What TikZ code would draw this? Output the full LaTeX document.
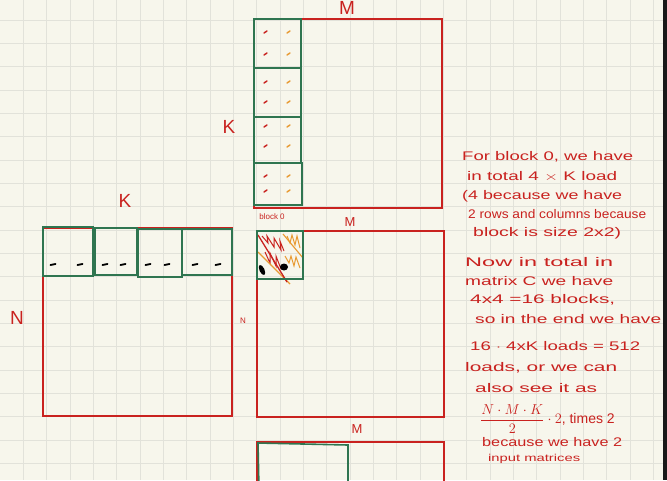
\documentclass[tikz,border=0pt]{standalone}
\usepackage{amsmath}
\usepackage{fontspec}
\setmainfont{Liberation Sans}
\usetikzlibrary{positioning}

\definecolor{paper}{HTML}{F7F6EC}
\definecolor{gridgray}{HTML}{E2E2DA}
\definecolor{inkred}{HTML}{C9221F}
\definecolor{inkgreen}{HTML}{2F7550}
\definecolor{inkorange}{HTML}{E89A32}

\newcommand{\handline}[2]{\resizebox{#1pt}{\height}{#2}}

\begin{document}
\begin{tikzpicture}[
    x=1pt, y=-1pt,
    gridline/.style={draw=gridgray, line width=0.9pt},
    matbox/.style={draw=inkred, line width=1.4pt},
    blockbox/.style={draw=inkgreen, line width=1.6pt},
    redmark/.style={draw=inkred, line width=1.5pt, line cap=round},
    orangemark/.style={draw=inkorange, line width=1.5pt, line cap=round},
    blackmark/.style={draw=black, line width=1.8pt, line cap=round},
    biglabel/.style={text=inkred, inner sep=0pt, font=\fontsize{19}{19}\selectfont},
    midlabel/.style={text=inkred, inner sep=0pt, font=\fontsize{13}{13}\selectfont},
    smalllabel/.style={text=inkred, inner sep=0pt, font=\fontsize{8}{8}\selectfont},
    note/.style={text=inkred, anchor=west, inner sep=0pt, font=\fontsize{12.5}{14}\selectfont}
]

    \fill[paper] (0,0) rectangle (667,480);
    \useasboundingbox (0,0) rectangle (667,480);
    \foreach \i in {1,...,28}
        \draw[gridline] (\i*23.333,0) -- (\i*23.333,480);
    \foreach \j in {1,...,21}
        \draw[gridline] (0,-3.333+\j*23.333) -- (663,-3.333+\j*23.333);
    \fill[black!90] (663,0) rectangle (667,480);

    \draw[matbox] (254,19) rectangle (442,208);
    \draw[blockbox] (254,19) rectangle (301,68);
    \draw[blockbox] (254,68) rectangle (301,117);
    \draw[blockbox] (254,117) rectangle (301,163);
    \draw[blockbox] (254,163) rectangle (302,205);
    \foreach \y in {33,55,83,103,127,147,177,192} {
        \draw[redmark] (264,\y) -- (267,\y-2);
        \draw[orangemark] (287,\y) -- (290,\y-2);
    }
    \node[biglabel] (labelMtop) at (347,8) {M};
    \node[biglabel] (labelKtop) at (229,127) {K};

    \draw[matbox] (43,228) rectangle (232,416);
    \draw[blockbox] (43,227) rectangle (93,276);
    \draw[blockbox] (95,228) rectangle (137,275);
    \draw[blockbox] (138,229) rectangle (182,277);
    \draw[blockbox] (182,229) rectangle (232,275);
    \foreach \x in {53,80,105,123,148,167,195,218}
        \draw[blackmark] (\x-2.5,265) -- (\x+2.5,264);
    \node[biglabel] (labelKleft) at (125,201) {K};
    \node[biglabel] (labelNleft) at (17,318) {N};

    \draw[matbox] (257,231) rectangle (444,417);
    \draw[inkred, line width=1pt] (262,236) -- (268,243) -- (267,236) -- (274,247) -- (274,238) -- (281,250) -- (280,241) -- (284,251);
    \draw[inkred, line width=1pt] (265,252) -- (270,263) -- (270,253) -- (276,266) -- (276,256) -- (281,269);
    \draw[inkorange, line width=1pt] (287,236) -- (290,243) -- (292,235) -- (295,245) -- (297,236) -- (300,248);
    \draw[inkorange, line width=1pt] (285,256) -- (289,263) -- (291,256) -- (294,266) -- (296,257) -- (300,268);
    \draw[inkorange, line width=1.1pt] (283,234) -- (303,258);
    \draw[inkorange, line width=1.1pt] (258,252) -- (290,284);
    \draw[inkred, line width=1.3pt] (258,235) -- (287,282);
    \fill[black, rotate around={25:(262,270)}] (262,270) ellipse (2.5 and 5.5);
    \fill[black] (284,267) ellipse (4 and 3.5);
    \draw[blockbox] (257,231) rectangle (303,279);
    \node[midlabel] (labelMmid) at (350,222) {M};
    \node[smalllabel] (labelNmid) at (243,321) {N};
    \node[smalllabel] (labelblock) at (272,217) {block 0};

    \draw[matbox] (257,490) -- (257,442) -- (444,442) -- (444,490);
    \draw[blockbox] (259,490) -- (258,443) -- (348,445) -- (348,490);
    \node[midlabel] (labelMbot) at (357,429) {M};

    \node[note] (note1) at (462,157) {\handline{171}{For block 0, we have}};
    \node[note] (note2) at (467,176) {\handline{150}{in total 4 $\times$ K load}};
    \node[note] (note3) at (462,196) {\handline{160}{(4 because we have}};
    \node[note] (note4) at (468,214) {\handline{178}{2 rows and columns because}};
    \node[note] (note5) at (473,233) {\handline{148}{block is size 2x2)}};
    \node[note] (note6) at (465,262) {\handline{148}{Now in total in}};
    \node[note] (note7) at (465,281) {\handline{148}{matrix C we have}};
    \node[note] (note8) at (470,300) {\handline{145}{4x4 =16 blocks,}};
    \node[note] (note9) at (475,319) {\handline{186}{so in the end we have}};
    \node[note] (note10) at (470,346) {\handline{170}{16 $\cdot$ 4xK loads = 512}};
    \node[note] (note11) at (465,368) {\handline{152}{loads, or we can}};
    \node[note] (note12) at (475,388) {\handline{122}{also see it as}};
    \node[note, font=\fontsize{14}{16}\selectfont] (note13) at (480,419) {$\dfrac{N\cdot M\cdot K}{2}\cdot 2$, times 2};
    \node[note] (note14) at (482,442) {\handline{140}{because we have 2}};
    \node[note, font=\fontsize{10}{12}\selectfont] (note15) at (488,459) {\handline{92}{input matrices}};

\end{tikzpicture}
\end{document}
